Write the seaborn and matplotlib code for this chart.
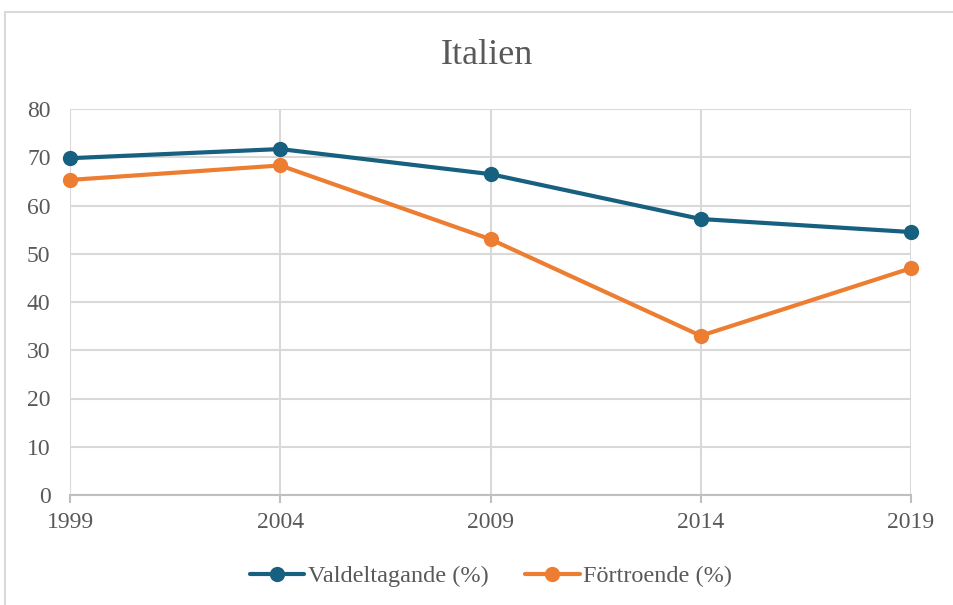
import matplotlib
matplotlib.use("Agg")
import matplotlib.pyplot as plt
import seaborn as sns
import pandas as pd
from matplotlib.lines import Line2D

years = [1999, 2004, 2009, 2014, 2019]
valdeltagande = [69.8, 71.7, 66.5, 57.2, 54.5]
fortroende = [65.3, 68.3, 53.0, 33.0, 47.0]
series_names = ["Valdeltagande (%)", "Förtroende (%)"]
colors = ["#17607f", "#ed7d31"]
title = "Italien"

sns.set_style("white")
plt.rcParams['font.family'] = ['Liberation Serif', 'DejaVu Serif']

df = pd.DataFrame({
    "year": years * 2,
    "value": valdeltagande + fortroende,
    "series": [series_names[0]] * len(years) + [series_names[1]] * len(years),
})

fig = plt.figure(figsize=(9.54, 6.05), dpi=100)
W, H = 954, 605
ax = fig.add_axes([70 / W, 1 - 495 / H, (911 - 70) / W, (495 - 109) / H])

sns.lineplot(data=df, x="year", y="value", hue="series", palette=colors,
             marker="o", markersize=11, linewidth=3, markeredgewidth=0,
             ax=ax, legend=False)
for ln in ax.lines:
    ln.set_clip_on(False)

txt = "#595959"
grid = "#d9d9d9"
ax.set_xlim(1999, 2019)
ax.set_ylim(0, 80)
ax.set_xticks(years)
ax.set_xticklabels([str(y) for y in years])
ax.set_yticks(range(0, 81, 10))
ax.grid(True, color=grid, linewidth=1.5)
ax.set_axisbelow(True)
for s in ["top", "right", "left"]:
    ax.spines[s].set_visible(False)
ax.spines["bottom"].set_color("#bfbfbf")
ax.spines["bottom"].set_linewidth(1.5)
ax.tick_params(axis="x", colors=txt, labelsize=17, length=6, width=1.5, color="#bfbfbf",
               direction="out", pad=6, bottom=True)
ax.tick_params(axis="y", colors=txt, labelsize=17, length=0, pad=14)
ax.set_xlabel("")
ax.set_ylabel("")

fig.text(487 / W, 1 - 55 / H, title, ha="center", va="center", fontsize=26, color=txt)

handles = [Line2D([0], [0], color=c, linewidth=3, marker="o", markersize=11,
                  markeredgewidth=0) for c in colors]
fig.legend(handles, series_names, loc="center", bbox_to_anchor=(491 / W, 1 - 576 / H),
           ncol=2, frameon=False, fontsize=17.5, labelcolor=txt, handlelength=2.25,
           handletextpad=0.15, columnspacing=1.5)

# outer chart border
fig.add_artist(Line2D([5 / W, 5 / W], [0, 1 - 12 / H], color=grid, linewidth=1.5,
                      transform=fig.transFigure))
fig.add_artist(Line2D([5 / W, 1], [1 - 12 / H, 1 - 12 / H], color=grid, linewidth=1.5,
                      transform=fig.transFigure))

fig.savefig("out.png", dpi=100, facecolor="white")
